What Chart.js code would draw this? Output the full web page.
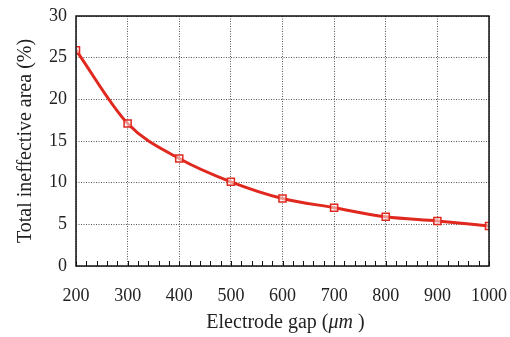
<!DOCTYPE html>
<html>
<head>
<meta charset="utf-8">
<script src="https://cdn.jsdelivr.net/npm/chart.js@4"></script>
<style>
  html, body { margin: 0; padding: 0; background: #fff; }
  #wrap { width: 510px; height: 337px; }
</style>
</head>
<body>
<div id="wrap"><canvas id="myChart" width="510" height="337"></canvas></div>
<script>
const gaps = [200, 300, 400, 500, 600, 700, 800, 900, 1000];
const ineffectiveArea = [25.9, 17.1, 12.9, 10.1, 8.1, 7.0, 5.9, 5.4, 4.8];
const yTicks = [0, 5, 10, 15, 20, 25, 30];
const xTicks = [200, 300, 400, 500, 600, 700, 800, 900, 1000];
const xMinorStep = 20;

const serif = '"Liberation Serif", "DejaVu Serif", serif';
const red = '#e0281e';

// frame, minor ticks and the x axis title (mixed italic)
const extras = {
    id: 'extras',
    afterDraw(chart) {
        const c = chart.ctx;
        const a = chart.chartArea;
        const xs = chart.scales.x;
        c.save();
        c.strokeStyle = '#111';
        c.lineWidth = 1;
        for (let v = xs.min; v <= xs.max; v += xMinorStep) {
            const px = Math.round(xs.getPixelForValue(v)) + 0.5;
            c.beginPath();
            c.moveTo(px, a.bottom);
            c.lineTo(px, a.bottom - 5);
            c.stroke();
        }
        c.lineWidth = 1.5;
        c.strokeRect(a.left, a.top, a.right - a.left, a.bottom - a.top);

        // x title
        const parts = [
            { t: 'Electrode gap (', f: '20px ' + serif },
            { t: 'μm', f: 'italic 20px ' + serif },
            { t: ' )', f: '20px ' + serif }
        ];
        let total = 0;
        parts.forEach(p => { c.font = p.f; p.w = c.measureText(p.t).width; total += p.w; });
        let x = (a.left + a.right) / 2 + 3 - total / 2;
        c.fillStyle = '#222';
        c.textBaseline = 'alphabetic';
        parts.forEach(p => { c.font = p.f; c.fillText(p.t, x, 328); x += p.w; });
        c.restore();
    }
};

const ctx = document.getElementById('myChart').getContext('2d');
const myChart = new Chart(ctx, {
    type: 'line',
    data: {
        datasets: [{
            data: gaps.map((g, i) => ({ x: g, y: ineffectiveArea[i] })),
            borderColor: red,
            borderWidth: 3,
            cubicInterpolationMode: 'monotone',
            pointStyle: 'rect',
            pointRadius: 5,
            pointBorderWidth: 1.5,
            pointBorderColor: red,
            pointBackgroundColor: 'rgba(255,255,255,0.5)'
        }]
    },
    options: {
        responsive: false,
        animation: false,
        layout: { padding: { top: 16, right: 21, bottom: 0, left: 0 } },
        plugins: { legend: { display: false }, tooltip: { enabled: false } },
        scales: {
            x: {
                type: 'linear',
                min: 200,
                max: 1000,
                afterBuildTicks: s => { s.ticks = xTicks.map(v => ({ value: v })); },
                afterFit: s => { s.height = 71; s.paddingLeft = 0; s.paddingRight = 0; },
                border: { display: false, dash: [1, 1.5] },
                grid: { color: '#555', lineWidth: 1, drawTicks: false },
                ticks: {
                    color: '#222', font: { family: serif, size: 18 }, padding: 19, maxRotation: 0,
                    callback: v => String(v)
                }
            },
            y: {
                min: 0,
                max: 30,
                afterBuildTicks: s => { s.ticks = yTicks.map(v => ({ value: v })); },
                afterFit: s => { s.width = 76; s.paddingTop = 0; s.paddingBottom = 0; },
                border: { display: false, dash: [1, 1.5] },
                grid: { color: '#555', lineWidth: 1, drawTicks: false },
                ticks: { color: '#222', font: { family: serif, size: 18 }, padding: 9 },
                title: {
                    display: true,
                    text: 'Total ineffective area (%)',
                    color: '#222',
                    font: { family: serif, size: 20 },
                    padding: { top: 14, bottom: 0 }
                }
            }
        }
    },
    plugins: [extras]
});
</script>
</body>
</html>
